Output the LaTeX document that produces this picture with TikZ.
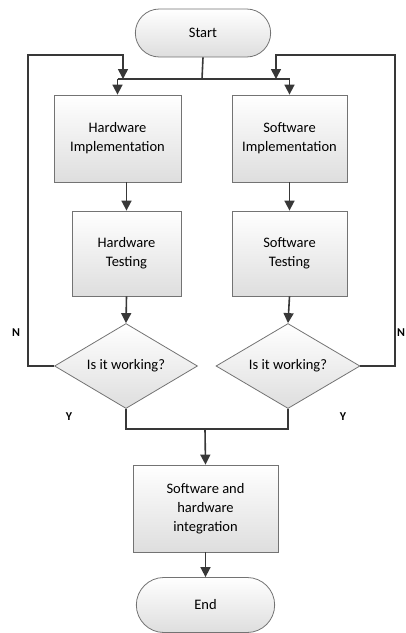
\documentclass[tikz,border=0pt]{standalone}
\usepackage{fontspec}
\setmainfont{Carlito}
\usetikzlibrary{positioning,shapes.geometric,shapes.misc,arrows.meta}

\tikzset{
	block/.style={rectangle, draw=black!55, line width=0.8pt, top color=white, bottom color=black!13,
		align=center, inner sep=2pt, font=\fontsize{14.5}{19}\selectfont},
	terminal/.style={rounded rectangle, draw=black!55, line width=0.8pt, top color=white, bottom color=black!13,
		font=\fontsize{14.5}{19}\selectfont},
	decision/.style={diamond, draw=black!55, line width=0.8pt, top color=white, bottom color=black!13,
		inner sep=0pt, aspect=1.68, font=\fontsize{14.5}{19}\selectfont},
	line/.style={draw=black!78, line width=1.6pt},
	arr/.style={line, -{Triangle[length=10pt,width=10pt]}},
	yn/.style={font=\bfseries\fontsize{12}{14}\selectfont}
}

\begin{document}
\begin{tikzpicture}[x=1pt,y=-1pt]
	\useasboundingbox (0,0) rectangle (406,633);

	\node[terminal, minimum width=142pt, minimum height=48pt] (start) at (203,33) {Start};
	\node[block, minimum width=127pt, minimum height=87pt] (hwimpl) at (117.5,138.5) {Hardware\\Implementation};
	\node[block, minimum width=115pt, minimum height=87pt] (swimpl) at (289.5,138.5) {Software\\Implementation};
	\node[block, minimum width=109pt, minimum height=85pt] (hwtest) at (126.5,253.5) {Hardware\\Testing};
	\node[block, minimum width=115pt, minimum height=85pt] (swtest) at (289.5,253.5) {Software\\Testing};
	\node[decision, minimum width=143pt, minimum height=85pt] (hwchk) at (126,366) {Is it working?};
	\node[decision, minimum width=144pt, minimum height=85pt] (swchk) at (288,366) {Is it working?};
	\node[block, minimum width=145pt, minimum height=87pt] (integ) at (205.5,508.5) {Software and\\hardware\\integration};
	\node[terminal, minimum width=145pt, minimum height=55pt] (endn) at (205.5,605) {End};

	\coordinate (split) at (202,79);
	\coordinate (lloop) at (28,55);
	\coordinate (lin) at (123,79);
	\coordinate (rloop) at (395,55);
	\coordinate (rin) at (276,79);
	\coordinate (join) at (205,429);

	% start splits into the two branches
	\draw[line] (start.south) -- (split);
	\draw[line] (hwimpl.north |- split) -- (swimpl.north |- split);
	\draw[arr] (hwimpl.north |- split) -- (hwimpl.north);
	\draw[arr] (swimpl.north |- split) -- (swimpl.north);

	\draw[arr] (hwtest.north |- hwimpl.south) -- (hwtest.north);
	\draw[arr] (swimpl.south) -- (swtest.north);
	\draw[arr] (hwtest.south) -- (hwchk.north);
	\draw[arr] (swtest.south) -- (swchk.north);

	% loops back when not working
	\draw[arr] (hwchk.west) -| (lloop) -| (lin);
	\draw[arr] (swchk.east) -| (rloop) -| (rin);

	\draw[line] (hwchk.south) |- (join);
	\draw[line] (swchk.south) |- (join);
	\draw[arr] (join) -- (integ.north);
	\draw[arr] (integ.south) -- (endn.north);

	\node[yn] (nl) at (16,333) {N};
	\node[yn] (yl) at (69,417) {Y};
	\node[yn] (yr) at (343,417) {Y};
	\node[yn] (nr) at (401,333) {N};
\end{tikzpicture}
\end{document}
